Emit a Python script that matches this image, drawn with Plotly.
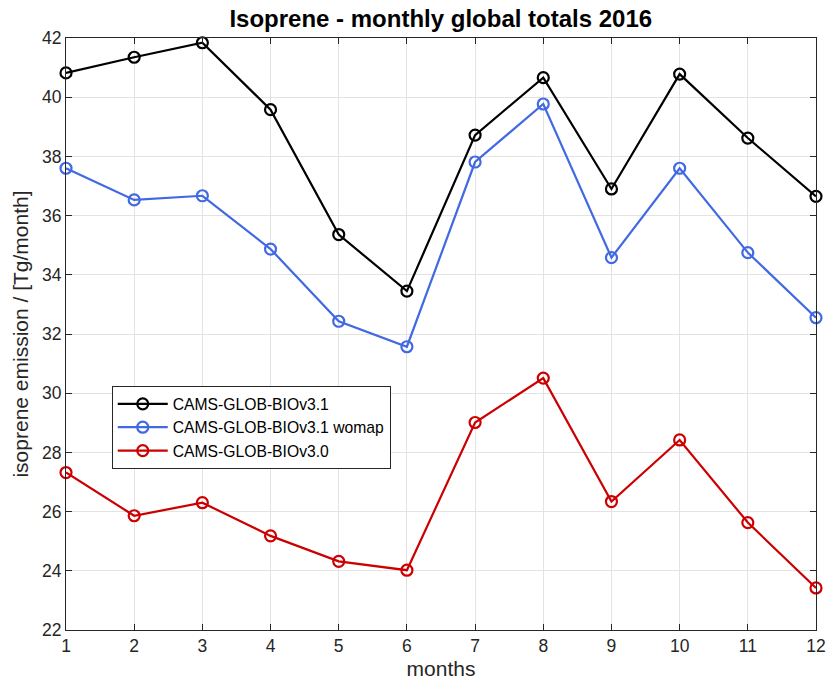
import plotly.graph_objects as go

months = list(range(1, 13))
v31 = [40.82, 41.35, 41.84, 39.58, 35.36, 33.45, 38.72, 40.66, 36.90, 40.78, 38.62, 36.65]
v31_womap = [37.60, 36.53, 36.67, 34.87, 32.43, 31.57, 37.81, 39.77, 34.58, 37.60, 34.75, 32.55]
v30 = [27.32, 25.86, 26.30, 25.18, 24.32, 24.02, 29.01, 30.51, 26.34, 28.42, 25.63, 23.42]
names = ["CAMS-GLOB-BIOv3.1", "CAMS-GLOB-BIOv3.1 womap", "CAMS-GLOB-BIOv3.0"]
colors = ["#000000", "#4169E1", "#CC0000"]

font = "Liberation Sans, Arial, Helvetica, sans-serif"
fig = go.Figure()
for name, vals, col in zip(names, [v31, v31_womap, v30], colors):
    fig.add_trace(go.Scatter(
        x=months, y=vals, name=name, mode="lines+markers",
        line=dict(color=col, width=2.2),
        marker=dict(symbol="circle-open", size=11, color=col, line=dict(width=2.2, color=col)),
        cliponaxis=False,
    ))

axis_common = dict(
    showline=True, linecolor="#262626", linewidth=1, mirror="ticks",
    ticks="inside", ticklen=6, tickcolor="#262626",
    showgrid=True, gridcolor="#E3E3E3", gridwidth=1, zeroline=False,
    tickfont=dict(family=font, size=17.5, color="#262626"),
    automargin=False,
)
fig.update_layout(
    width=827, height=680,
    margin=dict(l=66, r=11, t=38, b=50),
    paper_bgcolor="white", plot_bgcolor="white",
    title=dict(text="<b>Isoprene - monthly global totals 2016</b>", x=0.533, xanchor="center",
               y=0.972, yref="container", yanchor="middle",
               font=dict(family=font, size=24, color="black")),
    xaxis=dict(range=[1, 12], tickvals=months, ticktext=[str(m) for m in months],
               title=dict(text="months", font=dict(family=font, size=21, color="#262626"), standoff=17),
               **axis_common),
    yaxis=dict(range=[22, 42], dtick=2,
               title=dict(text="isoprene emission / [Tg/month]", font=dict(family=font, size=21, color="#262626"), standoff=7),
               **axis_common),
    legend=dict(x=0.061, y=0.412, xanchor="left", yanchor="top",
                bgcolor="white", bordercolor="#262626", borderwidth=1,
                font=dict(family=font, size=15.7, color="black"),
                tracegroupgap=0, itemwidth=50),
    showlegend=True,
)
fig.write_html(
    "out.html",
    config={"displayModeBar": False},
    post_script="document.body.style.margin='0';document.body.style.overflow='hidden';",
)
